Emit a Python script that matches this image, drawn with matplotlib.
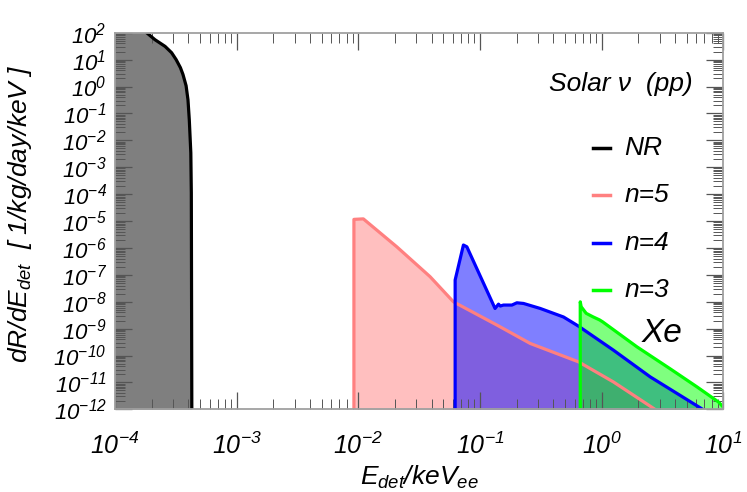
import matplotlib
matplotlib.use("Agg")
import matplotlib.pyplot as plt
from matplotlib.ticker import LogLocator, NullFormatter
from matplotlib.lines import Line2D
import numpy as np

plt.rcParams['font.family'] = ['Liberation Sans', 'DejaVu Sans']
plt.rcParams['font.style'] = 'italic'
plt.rcParams['mathtext.fontset'] = 'custom'
plt.rcParams['mathtext.rm'] = 'Liberation Sans:italic'
plt.rcParams['mathtext.it'] = 'Liberation Sans:italic'
plt.rcParams['mathtext.sf'] = 'Liberation Sans:italic'
plt.rcParams['mathtext.default'] = 'it'

# ---------------- data ----------------
# NR
nr_E = [1.0e-4, 1.5e-4, 1.82e-4, 2.13e-4, 2.58e-4, 2.92e-4, 3.18e-4, 3.45e-4, 3.62e-4,
        3.84e-4, 3.98e-4, 4.08e-4, 4.20e-4, 4.24e-4, 4.28e-4]
nr_R = [1e4, 3e2, 1.0e2, 5.5e1, 3.1e1, 1.8e1, 1.0e1, 5.0e0, 2.8e0,
        1.07e0, 3.2e-1, 5.8e-2, 3.4e-3, 1.1e-4, 1e-12]

# n=5
n5_E = [9.2e-3, 9.2e-3, 1.10e-2, 2.07e-2, 3.89e-2, 6.05e-2, 1.38e-1, 2.59e-1,
        6.46e-1, 1.25e0, 2.76e0, 2.85e0]
n5_R = [1e-13, 1.15e-5, 1.2e-5, 1.1e-6, 8.5e-8, 9.9e-9, 1.35e-9, 2.8e-10,
        5.8e-11, 1.04e-11, 9.8e-13, 8e-13]

# n=4
n4_E = [6.25e-2, 6.25e-2, 7.31e-2, 7.80e-2, 1.33e-1, 1.42e-1, 1.47e-1, 1.56e-1,
        1.83e-1, 2.01e-1, 2.28e-1, 3.13e-1, 4.86e-1, 6.46e-1, 1.25e0, 2.51e0, 6.81e0]
n4_R = [1e-13, 6.4e-8, 1.28e-6, 1.1e-6, 5.6e-9, 8.1e-9, 6.9e-9, 7.5e-9,
        7.5e-9, 9.1e-9, 8.6e-9, 5.6e-9, 2.7e-9, 1.23e-9, 1.58e-10, 1.6e-11, 9.8e-13]

# n=3
n3_E = [6.67e-1, 6.67e-1, 6.79e-1, 7.46e-1, 8.47e-1, 9.62e-1, 1.02e0, 1.95e0,
        3.66e0, 6.08e0, 9.14e0, 1.02e1]
n3_R = [1e-13, 9.9e-9, 6.5e-9, 3.7e-9, 2.75e-9, 2.1e-9, 1.78e-9, 2.1e-10,
        3.2e-11, 6.8e-12, 1.86e-12, 1.1e-12]

series = [
    ("NR", nr_E, nr_R, "#000000", (0, 0, 0, 0.5)),
    ("n=5", n5_E, n5_R, "#ff8080", (1.0, 0.5, 0.5, 0.5)),
    ("n=4", n4_E, n4_R, "#0000ff", (0.0, 0.0, 1.0, 0.5)),
    ("n=3", n3_E, n3_R, "#00ff00", (0.0, 1.0, 0.0, 0.5)),
]

xlim = (1e-4, 1e1)
ylim = (1e-12, 1e2)

# ---------------- figure ----------------
fig = plt.figure(figsize=(7.47, 4.92), dpi=100)
ax = fig.add_axes([115/747, (492-409.3)/492, (723.3-115)/747, (409.3-32.7)/492])
ax.set_xscale('log')
ax.set_yscale('log')

# fills first
for name, E, R, lc, fc in series:
    if name == "NR":
        ax.fill_betweenx(R, [xlim[0]*0.5]*len(R), E, color=fc, linewidth=0, zorder=1)
    else:
        ax.fill_between(E, R, 1e-14, color=fc, linewidth=0, zorder=1)
# lines on top
for name, E, R, lc, fc in series:
    ax.plot(E, R, color=lc, lw=2.3, zorder=3, solid_joinstyle='round')

ax.set_xlim(*xlim)
ax.set_ylim(*ylim)

ax.xaxis.set_major_locator(LogLocator(base=10, numticks=20))
ax.yaxis.set_major_locator(LogLocator(base=10, numticks=40))
ax.xaxis.set_minor_locator(LogLocator(base=10, subs=np.arange(2, 10), numticks=100))
ax.yaxis.set_minor_locator(LogLocator(base=10, subs=np.arange(2, 10), numticks=100))
ax.xaxis.set_minor_formatter(NullFormatter())
ax.yaxis.set_minor_formatter(NullFormatter())

tick_col = '#555555'
ax.tick_params(which='both', direction='in', top=True, right=True, color=tick_col, zorder=4)
ax.tick_params(which='major', length=12, width=0.9)
ax.tick_params(which='minor', length=7, width=0.7)
ax.tick_params(axis='x', which='major', labelsize=18, pad=17)
ax.tick_params(axis='y', which='major', labelsize=16, pad=6)
for sp in ax.spines.values():
    sp.set_color('#a0a0a0')
    sp.set_linewidth(1.3)
    sp.set_zorder(5)

ax.set_xlabel(r'$E_{det}/keV_{ee}$', fontsize=19)
ax.xaxis.set_label_coords(0.5, -0.145)
ax.xaxis.label.set_va('top')
ax.set_ylabel(r'$dR/dE_{det}$  [ 1/kg/day/keV ]', fontsize=19)
ax.yaxis.set_label_coords(-0.133, 0.52)

# annotations / legend
ax.text(0.95, 0.865, r'Solar ν  (pp)', transform=ax.transAxes, fontsize=19,
        ha='right', va='center', style='italic')
leg_y = [0.694, 0.568, 0.442, 0.316]
for (name, E, R, lc, fc), yy in zip(series, leg_y):
    ax.add_line(Line2D([0.786, 0.813], [yy, yy], transform=ax.transAxes, color=lc, lw=2.5))
    ax.text(0.837, yy, name, transform=ax.transAxes, fontsize=19, ha='left', va='center')
ax.text(0.90, 0.2, 'Xe', transform=ax.transAxes, fontsize=24, ha='center', va='center')

fig.savefig('out.png', dpi=100)
